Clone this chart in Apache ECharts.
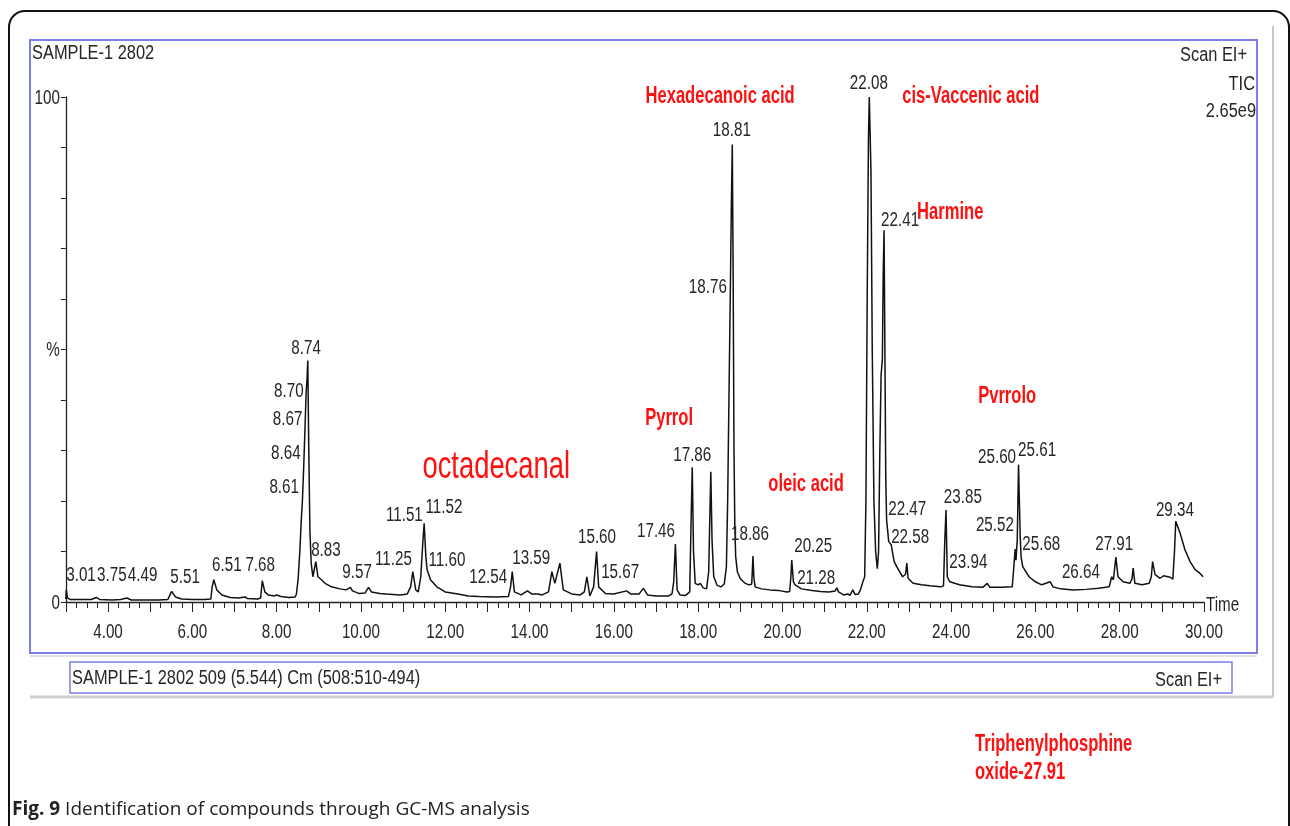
<!DOCTYPE html>
<html>
<head>
<meta charset="utf-8">
<script src="https://cdn.jsdelivr.net/npm/echarts@6.0.0/dist/echarts.min.js"></script>
<style>html,body{margin:0;background:#fff;}</style>
</head>
<body>
<div id="main" style="width:1290px;height:826px;"></div>
<script type="text/javascript">
// TIC trace, [retention time (min), relative abundance (%)]
var trace3to8 = [[3.0,0.6],[3.01,2.4],[3.04,0.8],[3.1,0.5],[3.4,0.5],[3.6,0.5],[3.72,0.9],[3.8,0.5],[4.1,0.4],[4.3,0.5],[4.45,0.8],[4.55,0.4],[4.9,0.4],[5.2,0.4],[5.42,0.5],
  [5.51,2.1],[5.6,1.0],[5.75,0.6],[6.0,0.5],[6.3,0.5],[6.44,0.6],[6.47,3.0],[6.51,4.4],[6.58,2.4],[6.7,1.4],[6.9,0.9],[7.1,0.8],[7.25,1.0],[7.3,0.7],[7.55,0.6],[7.62,0.8],
  [7.66,4.2],[7.72,2.0],[7.8,1.4],[7.95,1.2],[8.0,1.4],[8.1,1.1],[8.3,0.9],[8.44,1.0]];
var trace8to11 = [[8.47,1.6],[8.51,4.5],[8.55,10],[8.59,17],[8.61,19.7],[8.64,26.2],[8.67,33.6],[8.70,41.5],[8.72,44],[8.74,47.8],[8.76,32],[8.79,14],[8.82,7.7],[8.86,5.0],
  [8.93,8.0],[8.98,5.0],[9.05,4.5],[9.15,3.7],[9.3,3.0],[9.5,2.6],[9.65,2.4],[9.75,2.9],[9.8,2.2],[9.95,1.7],[10.1,1.8],[10.18,2.9],[10.25,2.0],[10.45,1.7]];
var trace11to17 = [[10.6,1.6],[10.93,1.4],[11.1,1.6],[11.18,3.0],[11.23,6.0],[11.3,2.4],[11.36,2.0],[11.42,5.0],[11.47,12],[11.50,15.6],[11.54,9.0],[11.57,6.4],[11.65,4.4],
  [11.8,3.0],[12.0,2.0],[12.3,1.6],[12.55,1.2],[12.8,1.1],[13.2,1.0],[13.5,1.1],[13.55,3.0],[13.59,6.0],[13.64,2.0],[13.8,1.4],[13.95,2.2],[14.05,1.6],[14.2,1.6],[14.3,1.4],
  [14.45,2.0],[14.53,6.0],[14.6,3.7],[14.72,7.7],[14.8,2.4],[15.0,1.6],[15.2,1.4],[15.3,2.0],[15.36,5.0],[15.43,1.2],[15.52,3.0],[15.59,10.0],[15.64,3.0],[15.8,1.7],[16.0,1.6],
  [16.3,2.2],[16.4,1.6],[16.6,1.6],[16.7,2.7],[16.8,1.4],[17.0,1.2],[17.3,1.2],[17.38,1.6]];
var trace17to20 = [[17.42,4.0],[17.46,11.5],[17.50,2.4],[17.57,1.4],[17.7,1.3],[17.8,2.0],[17.83,15],[17.86,26.7],[17.89,10],[17.93,3.7],[18.0,3.4],[18.05,3.7],[18.12,2.8],
  [18.2,2.6],[18.25,6.0],[18.28,18],[18.30,25.8],[18.33,12],[18.37,5.0],[18.45,3.3],[18.55,3.0],[18.62,3.6],[18.67,7.0],[18.70,20],[18.73,40],[18.76,59.4],[18.79,80],
  [18.81,90.6],[18.83,65],[18.85,30],[18.87,15],[18.89,9.0],[18.93,6.0],[19.0,4.6],[19.1,3.8],[19.2,3.4],[19.27,3.5],[19.29,7.0],[19.30,9.1],[19.32,5.0],[19.35,3.0],
  [19.5,2.6],[19.7,2.4],[19.9,2.3],[20.1,2.0],[20.17,2.1]];
var trace20to24 = [[20.20,5.0],[20.22,8.3],[20.26,4.0],[20.30,3.4],[20.45,2.6],[20.7,2.3],[20.9,2.1],[21.1,2.0],[21.25,2.2],[21.29,2.8],[21.33,2.0],[21.45,1.4],[21.55,1.6],
  [21.6,1.3],[21.67,2.4],[21.72,1.5],[21.8,1.6],[21.85,2.4],[21.9,3.8],[21.95,5.0],[21.98,20],[22.01,60],[22.04,92],[22.06,100],[22.08,100],[22.10,85],[22.13,50],[22.17,20],
  [22.21,10],[22.25,6.6],[22.28,10],[22.31,30],[22.34,45],[22.37,48],[22.39,65],[22.41,73.6],[22.43,50],[22.45,25],[22.47,16.3],[22.52,12],[22.58,11.3],[22.65,8.0],
  [22.75,6.4],[22.85,5.0],[22.92,5.5],[22.95,7.7],[22.98,4.7],[23.1,3.7],[23.3,3.4],[23.5,3.2],[23.75,3.0],[23.82,3.2]];
var trace24to30 = [[23.85,12],[23.88,18.2],[23.91,5.0],[23.97,4.0],[24.2,3.4],[24.5,3.0],[24.75,2.9],[24.86,3.7],[24.92,2.9],[25.2,2.9],[25.45,3.0],[25.48,6.0],[25.52,10.5],
  [25.54,8.3],[25.57,12.3],[25.60,27.2],[25.62,20],[25.64,13],[25.66,9.0],[25.70,7.0],[25.85,5.0],[26.0,4.0],[26.15,3.4],[26.35,4.0],[26.42,3.0],[26.6,2.6],[26.9,2.4],
  [27.2,2.5],[27.5,2.7],[27.75,3.0],[27.81,5.0],[27.85,4.4],[27.91,8.9],[27.96,5.0],[28.08,4.0],[28.24,3.7],[28.29,4.5],[28.32,6.7],[28.36,3.7],[28.53,3.4],[28.7,3.7],
  [28.75,5.0],[28.78,8.0],[28.84,5.4],[28.96,4.7],[29.04,5.2],[29.2,4.9],[29.26,4.5],[29.30,10],[29.33,16.0],[29.43,13.7],[29.55,10.3],[29.67,8.0],[29.79,6.4],[29.9,5.7],[29.98,5.0]];

// peak annotations: [text, time, abundance] of the label centre
var peakLabels = [['3.01',3.36,5.2],['3.75',4.09,5.2],['4.49',4.82,5.2],['5.51',5.83,4.8],['6.51',6.82,7.3],['7.68',7.61,7.3],
  ['8.74',8.70,50.3],['8.70',8.29,41.6],['8.67',8.26,36.2],['8.64',8.22,29.5],['8.61',8.18,22.6],['8.83',9.17,10.3],['9.57',9.91,5.9],
  ['11.25',10.77,8.5],['11.51',11.03,17.2],['11.52',11.97,18.8],['11.60',12.04,8.3],['12.54',13.02,4.8],['13.59',14.04,8.7],
  ['15.60',15.60,12.7],['15.67',16.15,5.9],['17.46',17.0,13.9],['17.86',17.86,29.1],['18.76',18.23,62.2],['18.81',18.80,93.3],
  ['18.86',19.23,13.3],['20.25',20.73,10.9],['21.28',20.80,4.75],['22.08',22.05,102.6],['22.41',22.79,75.6],['22.47',22.96,18.4],
  ['22.58',23.03,12.7],['23.85',24.28,20.6],['23.94',24.41,7.9],['25.52',25.04,15.2],['25.60',25.09,28.7],['25.61',26.04,30.1],
  ['25.68',26.14,11.3],['26.64',27.08,5.9],['27.91',27.87,11.3],['29.34',29.31,18.2]];
var compoundLabels = [['Hexadecanoic acid',18.52,100.0],['cis-Vaccenic acid',24.47,100.0],['Harmine',23.98,77.0],
  ['Pyrrol',17.31,36.4],['oleic acid',20.56,23.2],['Pvrrolo',25.33,40.6]];
var octadecanalLabel = ['octadecanal',13.21,26.7];

var xTickValues = [4,6,8,10,12,14,16,18,20,22,24,26,28,30];
var xTickLabels = ['4.00','6.00','8.00','10.00','12.00','14.00','16.00','18.00','20.00','22.00','24.00','26.00','28.00','30.00'];
var yTickValues = [100,50,0];
var yTickLabels = ['100','%','0'];

var trace = [].concat(trace3to8, trace8to11, trace11to17, trace17to20, trace20to24, trace24to30);

var myChart = echarts.init(document.getElementById('main'));
myChart.setOption({
    animation: false,
    backgroundColor: '#fff',
    grid: {left: 65.85, right: 86, top: 97, bottom: 224, outerBoundsMode: 'none'},
    xAxis: {
        type: 'value', min: 3, max: 30, interval: 1,
        axisLine: {lineStyle: {color: '#222', width: 1.3}},
        axisTick: {length: 10, lineStyle: {color: '#222', width: 1}},
        minorTick: {show: true, splitNumber: 4, length: 6, lineStyle: {color: '#222', width: 1}},
        axisLabel: {show: false},
        splitLine: {show: false}
    },
    yAxis: {
        type: 'value', min: 0, max: 100, interval: 10,
        axisLine: {show: true, lineStyle: {color: '#222', width: 1.3}},
        axisTick: {show: true, length: 5, lineStyle: {color: '#222', width: 1}},
        axisLabel: {show: false},
        splitLine: {show: false}
    },
    series: [{
        type: 'line',
        data: trace,
        showSymbol: false,
        lineStyle: {color: '#111', width: 1.5},
        clip: false
    }]
});

function px(t, v) {
    return myChart.convertToPixel({xAxisIndex: 0, yAxisIndex: 0}, [t, v]);
}
var FONT = '20px "Liberation Sans", Arial, sans-serif';
var RED_FONT = 'bold 23px "Liberation Sans", Arial, sans-serif';
function txt(s, x, y, align, font, fill, sx) {
    return {
        type: 'text', x: x, y: y, scaleX: sx || 0.76, z: 10,
        style: {text: s, font: font || FONT, fill: fill || '#262626', align: align || 'center', verticalAlign: 'middle'}
    };
}

var g = [];
// page frame and the screenshot window
g.push({type: 'rect', shape: {x: 9, y: 11, width: 1280, height: 900, r: 16}, style: {fill: 'none', stroke: '#111', lineWidth: 2}});
g.push({type: 'line', shape: {x1: 1273, y1: 26, x2: 1273, y2: 697}, style: {stroke: '#c8c8c8', lineWidth: 2}});
g.push({type: 'line', shape: {x1: 30, y1: 697, x2: 1273, y2: 697}, style: {stroke: '#d0d0d0', lineWidth: 3}});
g.push({type: 'line', shape: {x1: 30, y1: 656, x2: 1257, y2: 656}, style: {stroke: '#e0e0e0', lineWidth: 2}});
g.push({type: 'rect', shape: {x: 30, y: 40, width: 1227, height: 613}, style: {fill: 'none', stroke: '#7d7de8', lineWidth: 2}});
g.push({type: 'rect', shape: {x: 70, y: 662, width: 1162, height: 31}, style: {fill: 'none', stroke: '#7d7de8', lineWidth: 1.5}});

// header texts
g.push(txt('SAMPLE-1 2802', 32, 53, 'left', null, null, 0.82));
g.push(txt('Scan EI+', 1247, 55, 'right', null, null, 0.82));
g.push(txt('TIC', 1255, 84, 'right', null, null, 0.82));
g.push(txt('2.65e9', 1256, 111, 'right', null, null, 0.82));
g.push(txt('SAMPLE-1 2802 509 (5.544) Cm (508:510-494)', 72, 678, 'left', null, null, 0.82));
g.push(txt('Scan EI+', 1222, 680, 'right', null, null, 0.82));

// axis labels
xTickValues.forEach(function (t, i) {
    var p = px(t, 0);
    g.push(txt(xTickLabels[i], p[0], p[1] + 30));
});
yTickValues.forEach(function (v, i) {
    var p = px(3, v);
    g.push(txt(yTickLabels[i], p[0] - 6, p[1] + 1, 'right'));
});
var pEnd = px(30, 0);
g.push(txt('Time', pEnd[0] + 2, pEnd[1] + 3, 'left'));

// peak retention times
peakLabels.forEach(function (d) {
    var p = px(d[1], d[2]);
    g.push(txt(d[0], p[0], p[1]));
});
// compound names
compoundLabels.forEach(function (d) {
    var p = px(d[1], d[2]);
    g.push(txt(d[0], p[0], p[1], 'center', RED_FONT, '#ff1010', 0.72));
});
var po = px(octadecanalLabel[1], octadecanalLabel[2]);
g.push(txt(octadecanalLabel[0], po[0], po[1], 'center', '38px "Liberation Sans", Arial, sans-serif', '#ff1010', 0.72));

// note below the screenshot
g.push(txt('Triphenylphosphine', 975, 745, 'left', RED_FONT, '#ff1010', 0.72));
g.push(txt('oxide-27.91', 975, 773, 'left', RED_FONT, '#ff1010', 0.72));

// caption
g.push({
    type: 'text', x: 12, y: 810, z: 10,
    style: {
        text: '{b|Fig. 9} Identification of compounds through GC-MS analysis',
        font: '19px "Open Sans", "Noto Sans", sans-serif', fill: '#222', verticalAlign: 'middle',
        rich: {b: {fontFamily: '"Open Sans", "Noto Sans", sans-serif', fontSize: 19, fontWeight: 'bold', fill: '#222'}}
    }
});

myChart.setOption({graphic: g});
</script>
</body>
</html>
